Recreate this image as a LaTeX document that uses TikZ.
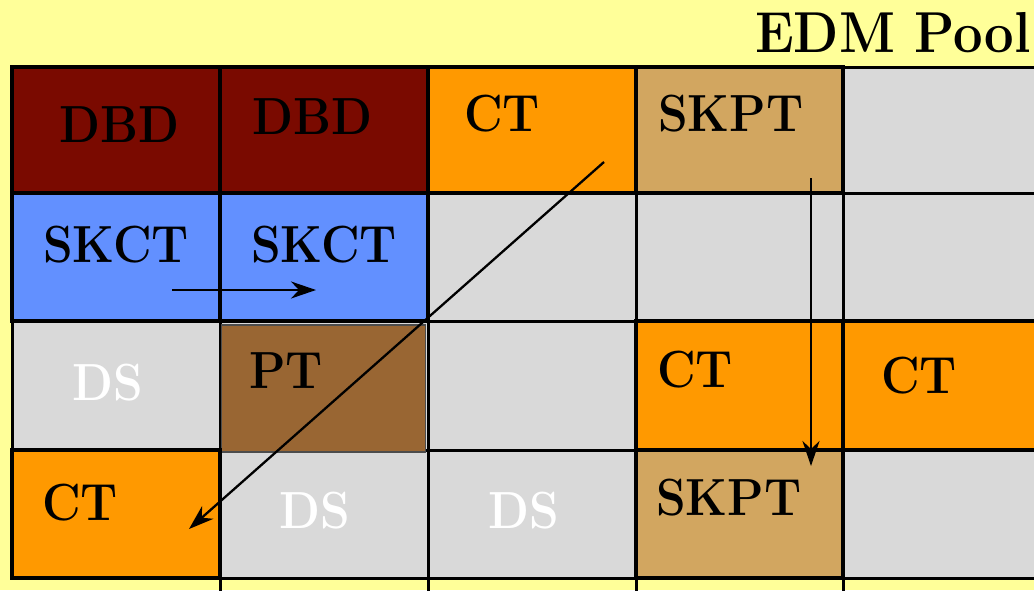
\documentclass[tikz,border=0pt]{standalone}
\usepackage{graphicx}
\usetikzlibrary{arrows.meta}
\definecolor{bgyellow}{RGB}{255,255,153}
\definecolor{dbdred}{RGB}{122,10,0}
\definecolor{ctorange}{RGB}{255,153,0}
\definecolor{skpttan}{RGB}{210,166,96}
\definecolor{skctblue}{RGB}{98,144,255}
\definecolor{ptbrown}{RGB}{153,102,51}
\definecolor{dsgray}{RGB}{217,217,217}
\newcommand\tx[1]{\scalebox{1}[1.1]{#1}}
\tikzset{
 cellbox/.style={draw=black, line width=3.5pt, inner sep=0pt, outer sep=0pt},
 gridline/.style={black, line width=3pt},
 lbl/.style={anchor=base west, inner sep=0pt, font=\fontsize{47.5}{52}\selectfont\bfseries},
 dslbl/.style={lbl, text=white},
 flow/.style={line width=2.3pt, -{Stealth[length=25pt,width=17pt,inset=8pt]}},
}
\newcommand\mkcell[6]{%
 \node[cellbox, fill=#6, minimum width={(#4-#2)*1pt}, minimum height={(#5-#3)*1pt}] (#1) at ({(#2+#4)/2},{(#3+#5)/2}) {};}
\begin{document}
\begin{tikzpicture}[x=1pt,y=-1pt]
\useasboundingbox (0,0) rectangle (1034,590);
\fill[bgyellow] (0,0) rectangle (1034,590);
\begin{scope}
\clip (0,0) rectangle (1034,590);
\fill[dsgray] (12,67) rectangle (1060,578);
\foreach \y in {67,193,321,450,578} \draw[gridline] (12,\y) -- (1060,\y);
\draw[gridline] (12,67) -- (12,578);
\foreach \x in {220,428,636,843} \draw[gridline] (\x,67) -- (\x,600);
\mkcell{dbdA}{12}{67}{220}{193}{dbdred}
\mkcell{dbdB}{220}{67}{428}{193}{dbdred}
\mkcell{ctA}{428}{67}{636}{193}{ctorange}
\mkcell{skptA}{636}{67}{843}{193}{skpttan}
\mkcell{skctA}{12}{193}{220}{321}{skctblue}
\mkcell{skctB}{220}{193}{428}{321}{skctblue}
\node[draw=black!70, line width=1.2pt, fill=ptbrown, inner sep=0pt, minimum width=204pt, minimum height=127pt] (ptA) at (323.5,388.5) {};
\mkcell{ctB}{636}{321}{843}{450}{ctorange}
\mkcell{ctC}{843}{321}{1070}{450}{ctorange}
\mkcell{ctD}{12}{450}{220}{578}{ctorange}
\mkcell{skptB}{636}{450}{843}{578}{skpttan}
\end{scope}
\node[anchor=base east, inner sep=0pt, font=\fontsize{52.5}{60}\selectfont\bfseries] (title) at (1031,52) {\tx{EDM Pool}};
\node[lbl] (tDBDa) at (59,142) {\tx{DBD}};
\node[lbl] (tDBDb) at (252,134) {\tx{DBD}};
\node[lbl] (tCTa) at (464,131) {\tx{CT}};
\node[lbl] (tSKPTa) at (658,131) {\tx{SKPT}};
\node[lbl] (tSKCTa) at (43,262) {\tx{SKCT}};
\node[lbl] (tSKCTb) at (251,262) {\tx{SKCT}};
\node[dslbl] (tDSa) at (72,400) {\tx{DS}};
\node[lbl] (tPT) at (249,388) {\tx{PT}};
\node[lbl] (tCTb) at (657,387) {\tx{CT}};
\node[lbl] (tCTc) at (881,393) {\tx{CT}};
\node[lbl] (tCTd) at (42,520) {\tx{CT}};
\node[dslbl] (tDSb) at (279,528) {\tx{DS}};
\node[dslbl] (tDSc) at (488,528) {\tx{DS}};
\node[lbl] (tSKPTb) at (656,515) {\tx{SKPT}};
\coordinate (h1) at (172,290);
\coordinate (h2) at (316,290);
\coordinate (d1) at (604,162);
\coordinate (d2) at (189,529);
\coordinate (v1) at (811,178);
\coordinate (v2) at (811,466);
\draw[flow] (h1) -- (h2);
\draw[flow] (d1) -- (d2);
\draw[flow] (v1) -- (v2);
\end{tikzpicture}
\end{document}
